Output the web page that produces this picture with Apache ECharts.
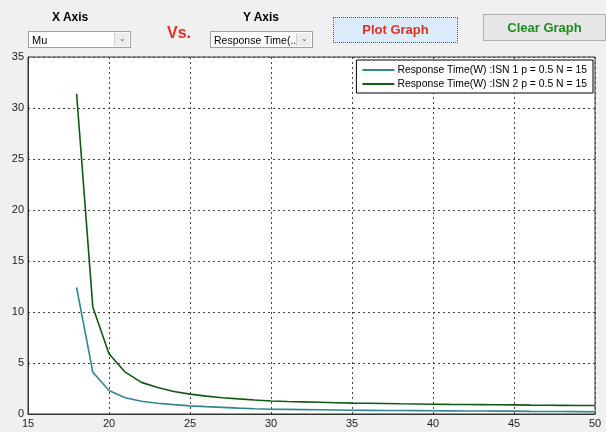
<!DOCTYPE html>
<html>
<head>
<meta charset="utf-8">
<script src="https://cdn.jsdelivr.net/npm/echarts@6/dist/echarts.min.js"></script>
<style>
  html, body { margin: 0; padding: 0; background: #f0f0f0; }
  body { width: 606px; height: 432px; position: relative; overflow: hidden; font-family: "Liberation Sans", Arial, sans-serif; }
  #chart { position: absolute; left: 0; top: 0; width: 606px; height: 432px; }
  .lbl { position: absolute; font-weight: bold; font-size: 12px; color: #000; }
  .sel { position: absolute; background: #fff; border: 1px solid #a0a0a0; font-size: 11px; box-sizing: border-box; padding: 2px 3px; line-height: 12px; white-space: nowrap; }
  .sel .arr { position: absolute; right: 1px; top: 1px; width: 14px; height: 13px; font-size: 8px; color: #555; text-align: center; line-height: 11px; background: #ececec; border-left: 1px solid #d0d0d0; }
  .btn { position: absolute; box-sizing: border-box; font-weight: bold; font-size: 13px; text-align: center; }
</style>
</head>
<body>
<div id="chart"></div>
<div class="lbl" style="left:52px; top:10px;">X Axis</div>
<div class="sel" style="left:28px; top:31px; width:103px; height:17px;">Mu<span class="arr">&#8964;</span></div>
<div class="lbl" style="left:167px; top:24px; font-size:16px; color:#e0301e;">Vs.</div>
<div class="lbl" style="left:243px; top:10px;">Y Axis</div>
<div class="sel" style="left:210px; top:31px; width:103px; height:17px; font-size:10.5px;">Response Time(...<span class="arr">&#8964;</span></div>
<div class="btn" style="left:333px; top:17px; width:125px; height:26px; background:#dcebfa; border:1px dotted #3c5a8c; color:#e0301e; line-height:24px;">Plot Graph</div>
<div class="btn" style="left:483px; top:14px; width:123px; height:27px; background:#e6e6e6; border:1px solid #b0b0b0; color:#1e8c1e; line-height:25px;">Clear Graph</div>
<script>
const muValues = [18,19,20,21,22,23,24,25,26,27,28,29,30,31,32,33,34,35,36,37,38,39,40,41,42,43,44,45,46,47,48,49,50];
const isn1 = [12.4,4.1,2.3,1.6,1.25,1.05,0.92,0.8,0.72,0.65,0.58,0.52,0.47,0.45,0.43,0.41,0.39,0.37,0.36,0.35,0.34,0.33,0.32,0.31,0.30,0.29,0.285,0.28,0.26,0.25,0.24,0.23,0.22];
const isn2 = [31.4,10.5,5.9,4.1,3.1,2.6,2.2,1.95,1.75,1.6,1.48,1.37,1.28,1.23,1.19,1.15,1.11,1.07,1.05,1.03,1.0,0.98,0.96,0.94,0.93,0.92,0.9,0.89,0.87,0.86,0.85,0.84,0.83];
const xTicks = [15,20,25,30,35,40,45,50];
const yTicks = [0,5,10,15,20,25,30,35];
const seriesNames = ['Response Time(W) :ISN 1 p = 0.5 N = 15','Response Time(W) :ISN 2 p = 0.5 N = 15'];
const seriesColors = ['#2f8790','#0d5c10'];

const chart = echarts.init(document.getElementById('chart'));
const font = '"Liberation Sans", Arial, sans-serif';
chart.setOption({
  animation: false,
  backgroundColor: 'transparent',
  grid: { left: 28, right: 11, top: 57, bottom: 18, show: true, backgroundColor: '#fff', borderColor: '#333', borderWidth: 1 },
  legend: {
    orient: 'vertical', right: 13, top: 60,
    backgroundColor: '#fff', borderColor: '#000', borderWidth: 1,
    padding: [5, 6, 4, 6], itemGap: 4, itemWidth: 32, itemHeight: 2,
    icon: 'rect',
    textStyle: { fontFamily: font, fontSize: 10.4, color: '#000', padding: [0, 0, 0, -2] },
    data: seriesNames
  },
  xAxis: {
    type: 'value', min: xTicks[0], max: xTicks[xTicks.length-1], interval: 5,
    axisLine: { show: true, lineStyle: { color: '#333' } },
    axisTick: { show: false },
    axisLabel: { fontFamily: font, fontSize: 11, color: '#222', margin: 4 },
    splitLine: { show: true, lineStyle: { color: '#444', type: [2, 3], width: 1 } }
  },
  yAxis: {
    type: 'value', min: yTicks[0], max: yTicks[yTicks.length-1], interval: 5,
    axisLine: { show: true, lineStyle: { color: '#333' } },
    axisTick: { show: false },
    axisLabel: { fontFamily: font, fontSize: 11, color: '#222', margin: 4 },
    splitLine: { show: true, lineStyle: { color: '#444', type: [2, 3], width: 1 } }
  },
  series: [
    { name: seriesNames[0], type: 'line', showSymbol: false, symbol: 'none', lineStyle: { width: 1.6, color: seriesColors[0] }, itemStyle: { color: seriesColors[0] }, data: muValues.map((m, i) => [m, isn1[i]]) },
    { name: seriesNames[1], type: 'line', showSymbol: false, symbol: 'none', lineStyle: { width: 1.6, color: seriesColors[1] }, itemStyle: { color: seriesColors[1] }, data: muValues.map((m, i) => [m, isn2[i]]) }
  ]
});
</script>
</body>
</html>
